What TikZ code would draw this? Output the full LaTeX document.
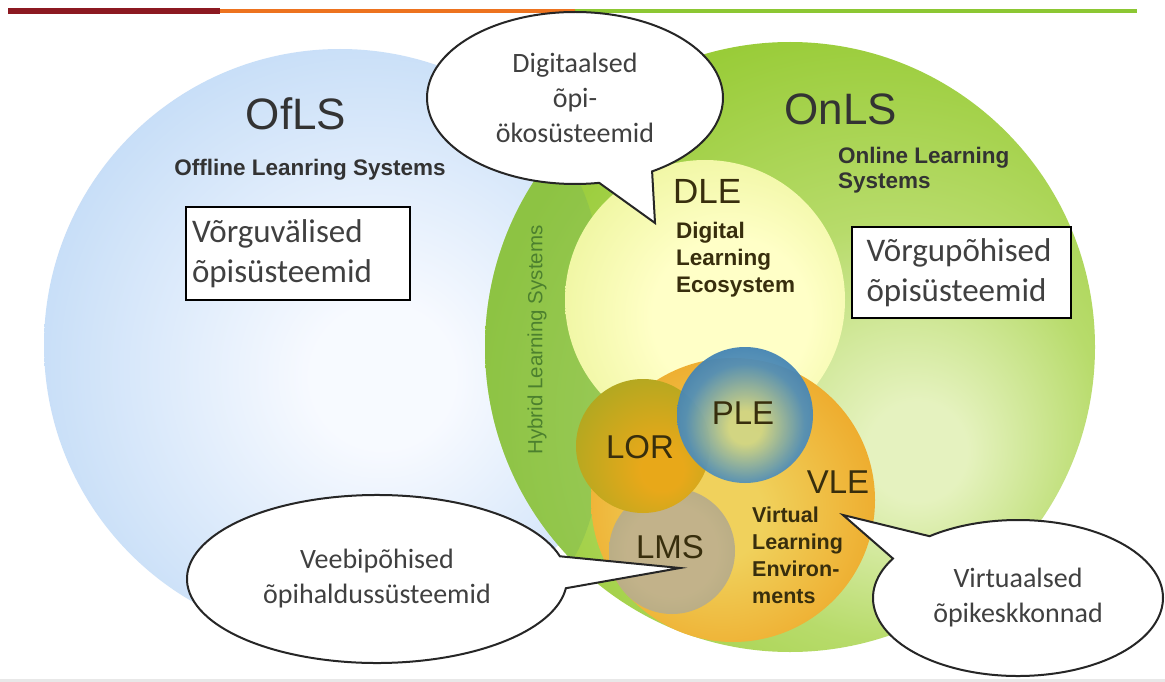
\documentclass[tikz,border=0pt]{standalone}
\usepackage{fontspec}
\setmainfont{Liberation Sans}
\newfontfamily\calib{Carlito}
\usetikzlibrary{shapes.callouts,shapes.geometric}

\definecolor{barred}{rgb}{0.55,0.10,0.13}
\definecolor{barorange}{rgb}{0.93,0.45,0.12}
\definecolor{bargreen}{rgb}{0.55,0.78,0.20}
\definecolor{txtdark}{rgb}{0.20,0.20,0.20}
\definecolor{txtgray}{rgb}{0.25,0.25,0.25}
\definecolor{balltxt}{rgb}{0.22,0.18,0.05}
\definecolor{hybtxt}{rgb}{0.30,0.50,0.18}
\definecolor{hybridcol}{rgb}{0.50,0.73,0.32}

\definecolor{bin}{rgb}{0.97,0.98,1.00}
\definecolor{bmid}{rgb}{0.78,0.87,0.97}
\definecolor{bout}{rgb}{0.60,0.76,0.94}
\pgfdeclareradialshading{ofls}{\pgfpoint{4bp}{-3bp}}{color(0bp)=(bin); color(6bp)=(bin); color(28bp)=(bmid); color(47bp)=(bout); color(60bp)=(bout)}

\definecolor{gin}{rgb}{0.90,0.95,0.75}
\definecolor{gmid}{rgb}{0.72,0.86,0.42}
\definecolor{gout}{rgb}{0.60,0.80,0.22}
\pgfdeclareradialshading{onls}{\pgfpoint{11bp}{-9bp}}{color(0bp)=(gin); color(4bp)=(gin); color(17bp)=(gmid); color(32bp)=(gout); color(80bp)=(gout)}

\definecolor{din}{rgb}{1.00,1.00,0.78}
\definecolor{dout}{rgb}{0.86,0.92,0.45}
\pgfdeclareradialshading{dle}{\pgfpoint{6bp}{-4bp}}{color(0bp)=(din); color(14bp)=(din); color(50bp)=(dout); color(60bp)=(dout)}

\definecolor{vin}{rgb}{0.94,0.82,0.36}
\definecolor{vout}{rgb}{0.93,0.57,0.05}
\pgfdeclareradialshading{vle}{\pgfpoint{-3bp}{-3bp}}{color(0bp)=(vin); color(8bp)=(vin); color(42bp)=(vout); color(60bp)=(vout)}

\definecolor{pin}{rgb}{0.82,0.84,0.52}
\definecolor{pmid}{rgb}{0.32,0.56,0.72}
\definecolor{pout}{rgb}{0.15,0.42,0.68}
\definecolor{pdark}{rgb}{0.12,0.35,0.60}
\pgfdeclareradialshading{ple}{\pgfpoint{0bp}{-5bp}}{color(0bp)=(pin); color(6bp)=(pin); color(22bp)=(pmid); color(40bp)=(pout); color(50bp)=(pdark); color(60bp)=(pdark)}

\definecolor{lin}{rgb}{0.91,0.66,0.10}
\definecolor{lout}{rgb}{0.60,0.66,0.14}
\pgfdeclareradialshading{lor}{\pgfpoint{8bp}{-10bp}}{color(0bp)=(lin); color(8bp)=(lin); color(44bp)=(lout); color(70bp)=(lout)}

\definecolor{min}{rgb}{0.76,0.70,0.54}
\definecolor{mout}{rgb}{0.64,0.62,0.47}
\pgfdeclareradialshading{lms}{\pgfpoint{0bp}{0bp}}{color(0bp)=(min); color(18bp)=(min); color(48bp)=(mout); color(60bp)=(mout)}

\tikzset{
  bigtitle/.style={font=\fontsize{44}{50}\selectfont, text=txtdark, inner sep=0pt},
  sublbl/.style={font=\fontsize{22.5}{25}\selectfont\bfseries, text=txtdark, align=left, inner sep=0pt},
  balllbl/.style={font=\fontsize{33}{38}\selectfont, text=balltxt, inner sep=0pt},
  boxlbl/.style={draw=black, line width=2pt, fill=white, font=\calib\fontsize{33}{40}\selectfont, align=left, text=txtgray, inner ysep=0pt},
  bubble/.style={ellipse callout, draw=black!85, line width=2pt, fill=white, callout pointer arc=22, inner sep=0pt, font=\calib\fontsize{28}{35}\selectfont, align=center, text=txtgray},
}

\begin{document}
\begin{tikzpicture}[x=1pt,y=-1pt]
\useasboundingbox (0,0) rectangle (1165,682);
\fill[white] (0,0) rectangle (1165,682);

% top bar
\fill[barred] (8,8) rectangle (220,14);
\fill[barorange] (220,9) rectangle (575,13);
\fill[bargreen] (575,9) rectangle (1137,13);
% faint bottom line
\fill[gray!18] (0,679) rectangle (1165,682);

% circles
\shade[shading=ofls] (340,345) circle (296);
\shade[shading=onls] (790,347) circle (305);
\begin{scope}
  \clip (790,347) circle (305);
  \fill[hybridcol, opacity=0.45] (545,365) ellipse [x radius=65, y radius=215];
\end{scope}
\shade[shading=dle] (705,300) circle (140);
\shade[shading=vle] (733,500) circle (142);
\shade[shading=lms] (672,551) circle (63);
\shade[shading=lor] (643,446) circle (67);
\shade[shading=ple, opacity=0.95] (745,415) circle (68);

% titles
\node[bigtitle] (ofls) at (296,114) {OfLS};
\node[sublbl] (oflssub) at (310,170) {Offline Leanring Systems};
\node[bigtitle] (onls) at (841,109) {OnLS};
\node[sublbl, anchor=west] (onlssub) at (838,170) {Online Learning\\Systems};
\node[font=\fontsize{35}{40}\selectfont, text=balltxt, inner sep=0pt, anchor=west] (dle) at (673,191) {DLE};
\node[sublbl, text=balltxt, anchor=west, font=\fontsize{22.5}{27}\selectfont\bfseries] (dlesub) at (676,260) {Digital\\Learning\\Ecosystem};
\node[font=\fontsize{20.5}{22}\selectfont, text=hybtxt, rotate=90, inner sep=0pt] (hyb) at (537,340) {Hybrid Learning Systems};

\node[balllbl] (lor) at (640,447) {LOR};
\node[balllbl] (ple) at (743,413) {PLE};
\node[balllbl] (lms) at (670,547) {LMS};
\node[balllbl] (vle) at (838,482) {VLE};
\node[sublbl, text=balltxt, anchor=west, font=\fontsize{21.5}{27}\selectfont\bfseries] (vlesub) at (752,555) {Virtual\\Learning\\Environ-\\ments};

% boxes
\node[boxlbl, text width=212pt, inner xsep=6pt, minimum height=93pt] (boxoff) at (298,253.5) {Võrguvälised\\õpisüsteemid};
\node[boxlbl, text width=190pt, inner xsep=14.5pt, minimum height=91pt] (boxon) at (961.5,272.5) {Võrgupõhised\\õpisüsteemid};

% callouts
\coordinate (tipD) at (655,223);
\coordinate (tipL) at (680,568);
\coordinate (tipV) at (843,515);
\node[bubble, minimum width=296pt, minimum height=172pt, callout absolute pointer={(tipD)}] (cD) at (575,98) {Digitaalsed\\õpi-\\ökosüsteemid};
\node[bubble, minimum width=380pt, minimum height=168pt, callout absolute pointer={(tipL)}] (cL) at (377,579) {Veebipõhised\\õpihaldussüsteemid};
\node[bubble, minimum width=290pt, minimum height=156pt, callout absolute pointer={(tipV)}] (cV) at (1018,598) {Virtuaalsed\\õpikeskkonnad};
\end{tikzpicture}
\end{document}
